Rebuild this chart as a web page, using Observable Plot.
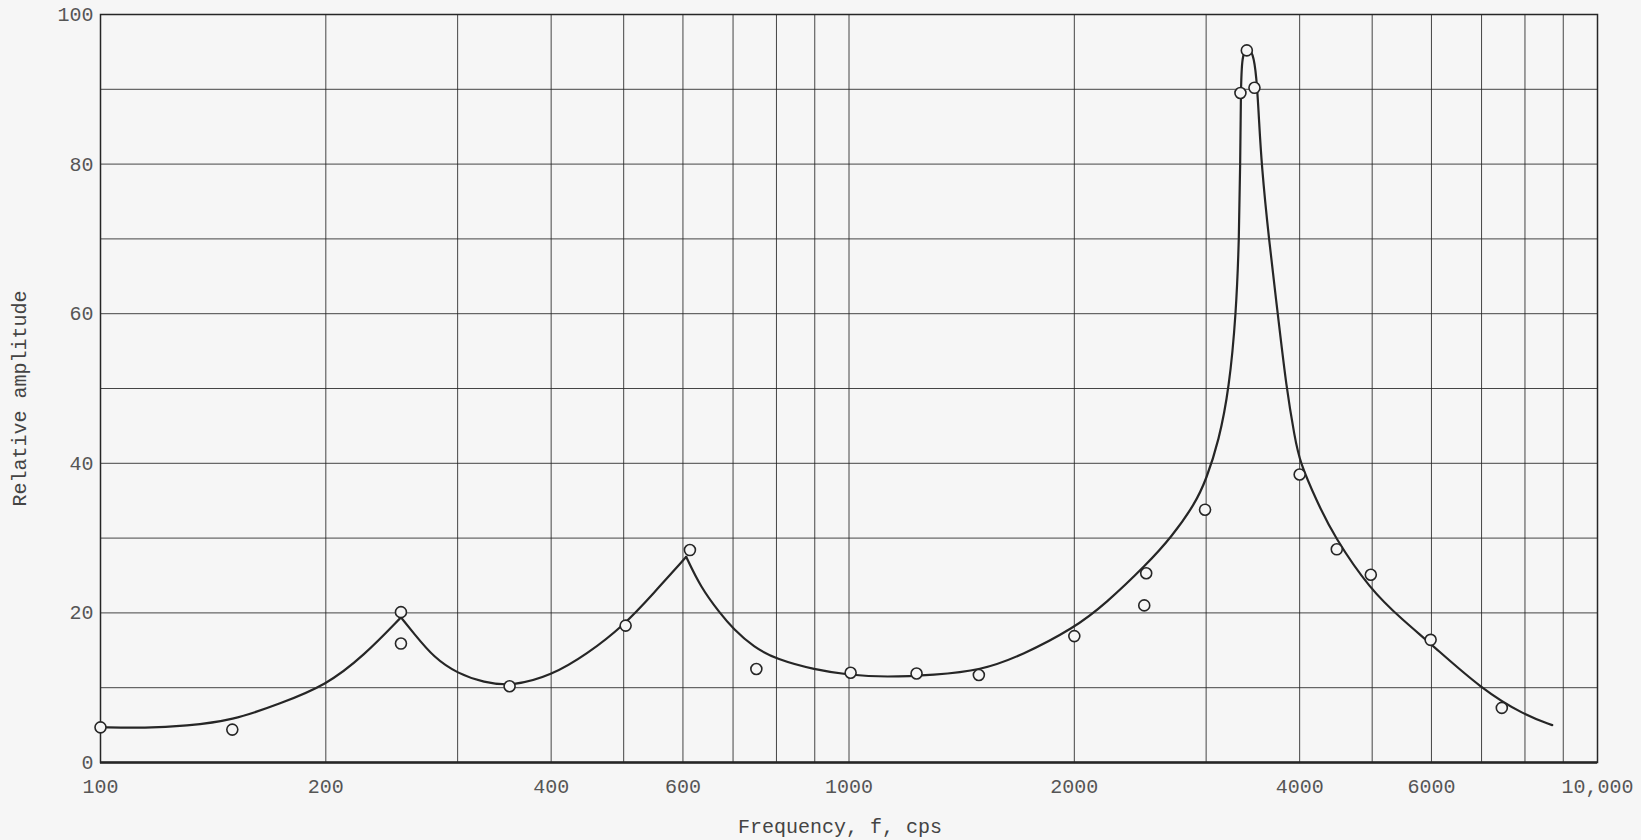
<!DOCTYPE html>
<html><head><meta charset="utf-8">
<script src="https://cdn.jsdelivr.net/npm/d3@7"></script>
<script src="https://cdn.jsdelivr.net/npm/@observablehq/plot@0.6"></script>
<style>
html,body{margin:0;padding:0;background:#f6f6f6;}
#chart svg{display:block;}
</style></head><body><div id="chart"></div>
<script>
// Measured points (circles)
const pointFreq = [100, 150, 252, 252, 352, 503, 613, 752, 1005, 1231, 1491, 2000, 2495, 2480, 2990, 3334, 3400, 3481, 4000, 4484, 4979, 5985, 7450];
const pointAmp  = [4.7, 4.4, 20.1, 15.9, 10.2, 18.3, 28.4, 12.5, 12.0, 11.9, 11.7, 16.9, 25.3, 21.0, 33.8, 89.5, 95.2, 90.2, 38.5, 28.5, 25.1, 16.4, 7.3];

// Faired curve, in three parts joined at the sharp peaks
const curveFreq = [
  100, 115, 130, 150, 174, 200, 225, 252,
  252, 262, 279, 300, 325, 355, 400, 447, 500, 548, 606,
  606, 633, 673, 700, 746, 800, 900, 1000, 1120, 1300, 1500, 1700, 2000, 2200, 2500, 2700, 2900, 3000, 3120, 3220, 3290, 3320, 3332, 3338, 3350, 3404, 3465, 3502, 3530, 3557, 3638, 3740, 3841, 3940, 4000, 4222, 4443, 4970, 5500, 6000, 7000, 8000, 8700
];
const curveAmp = [
  4.7, 4.6, 4.9, 5.6, 7.9, 10.3, 14.3, 19.4,
  19.4, 17.3, 14.0, 11.9, 10.7, 10.2, 11.6, 14.5, 18.3, 22.6, 27.5,
  27.5, 23.5, 19.9, 17.9, 15.4, 13.8, 12.4, 11.7, 11.4, 11.7, 12.3, 14.3, 18.0, 21.2, 26.5, 30.2, 34.6, 37.8, 43.0, 50, 60, 70, 80, 90, 94.6, 95.7, 94.9, 91.9, 86, 80, 70, 60, 50, 43.5, 40.2, 34.8, 30.3, 23.1, 19.0, 15.8, 9.8, 6.3, 5.0
];
const curvePart = [
  "a","a","a","a","a","a","a","a",
  "b","b","b","b","b","b","b","b","b","b","b",
  "c","c","c","c","c","c","c","c","c","c","c","c","c","c","c","c","c","c","c","c","c","c","c","c","c","c","c","c","c","c","c","c","c","c","c","c","c","c","c","c","c","c","c"
];

const xTickValues = [100, 200, 400, 600, 1000, 2000, 4000, 6000, 10000];
const xTickLabels = ["100", "200", "400", "600", "1000", "2000", "4000", "6000", "10,000"];
const yTickValues = [0, 20, 40, 60, 80, 100];
const xGridValues = [100, 200, 300, 400, 500, 600, 700, 800, 900, 1000, 2000, 3000, 4000, 5000, 6000, 7000, 8000, 9000, 10000];
const yGridValues = [10, 20, 30, 40, 50, 60, 70, 80, 90];

const points = pointFreq.map((f, i) => ({f, a: pointAmp[i]}));
const curve = curveFreq.map((f, i) => ({f, a: curveAmp[i], part: curvePart[i]}));

const paper = "#f6f6f6";
const ink = "#262626";

const chart = Plot.plot({
  width: 1641,
  height: 840,
  marginLeft: 100,
  marginRight: 44,
  marginTop: 14,
  marginBottom: 78,
  style: {background: paper, fontFamily: "'Liberation Mono', 'DejaVu Sans Mono', monospace", fontSize: "20px", color: "#555"},
  x: {type: "log", domain: [100, 10000]},
  y: {domain: [0, 100]},
  marks: [
    Plot.gridX(xGridValues, {stroke: ink, strokeOpacity: 0.85, strokeWidth: 1}),
    Plot.gridY(yGridValues, {stroke: ink, strokeOpacity: 0.85, strokeWidth: 1}),
    Plot.frame({stroke: ink, strokeWidth: 1.5}),
    Plot.ruleY([0], {stroke: ink, strokeWidth: 2.6}),
    Plot.axisX(xTickValues, {tickSize: 0, tickPadding: 16, label: null, tickFormat: d => xTickLabels[xTickValues.indexOf(d)], fill: "#555"}),
    Plot.axisY(yTickValues, {tickSize: 0, tickPadding: 7, label: null, tickFormat: d => String(d), fill: "#555"}),
    Plot.line(curve, {x: "f", y: "a", z: "part", curve: "basis", stroke: ink, strokeWidth: 2.2}),
    Plot.dot(points, {x: "f", y: "a", r: 5.5, stroke: ink, strokeWidth: 1.6, fill: paper}),
    Plot.text(["Frequency, f, cps"], {frameAnchor: "bottom", dx: -9, dy: 70, text: d => d, fill: "#444", fontSize: 20}),
    Plot.text(["Relative amplitude"], {frameAnchor: "left", textAnchor: "middle", rotate: -90, dx: -81, dy: 10, text: d => d, fill: "#444", fontSize: 20})
  ]
});
document.getElementById("chart").appendChild(chart);
</script>
</body></html>
